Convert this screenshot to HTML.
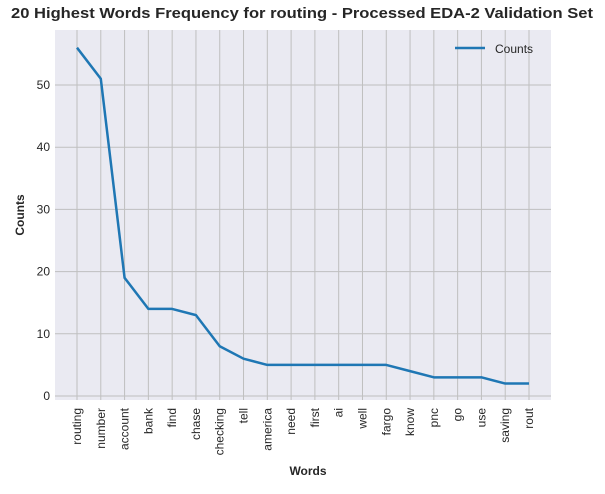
<!DOCTYPE html>
<html><head><meta charset="utf-8"><style>
body{margin:0;background:#fff;font-family:"Liberation Sans",Arial,sans-serif}
</style></head><body>
<svg width="605" height="489" xmlns="http://www.w3.org/2000/svg">
<text x="302" y="18" text-anchor="middle" font-size="15" font-weight="bold" fill="#262626" textLength="582" lengthAdjust="spacingAndGlyphs">20 Highest Words Frequency for routing - Processed EDA-2 Validation Set</text>
<rect x="55" y="30" width="496" height="370" fill="#eaeaf2"/>
<g id="grid"></g>
<path id="line" fill="none" stroke="#1f77b4" stroke-width="2.5" stroke-linejoin="round"/>
<g id="labels"></g>
<text x="308" y="475" text-anchor="middle" font-size="12" font-weight="bold" fill="#262626">Words</text>
<text transform="translate(24,215) rotate(-90)" text-anchor="middle" font-size="12" font-weight="bold" fill="#262626">Counts</text>
<g>
<line x1="455" y1="48" x2="485" y2="48" stroke="#1f77b4" stroke-width="2.5"/>
<text x="495" y="53" font-size="12" fill="#262626">Counts</text>
</g>
</svg>
<script>
const categories=["routing","number","account","bank","find","chase","checking","tell","america","need","first","ai","well","fargo","know","pnc","go","use","saving","rout"];
const counts=[56,51,19,14,14,13,8,6,5,5,5,5,5,5,4,3,3,3,2,2];
const yTicks=[0,10,20,30,40,50];
const ns="http://www.w3.org/2000/svg";
const x=i=>77+i*(529-77)/(categories.length-1);
const y=v=>396-v*(396-85)/50;
const grid=document.getElementById('grid'),labels=document.getElementById('labels');
function mk(tag,attrs,parent){const e=document.createElementNS(ns,tag);for(const k in attrs)e.setAttribute(k,attrs[k]);parent.appendChild(e);return e;}
categories.forEach((c,i)=>{
 const l=mk('line',{x1:x(i),x2:x(i),y1:30,y2:400,stroke:'#bfbfbf','stroke-width':1},grid);
 
 
 const t=mk('text',{transform:`translate(${x(i)+4},408) rotate(-90)`,'text-anchor':'end','font-size':12,fill:'#262626'},labels);
 t.textContent=c;
 
 
});
yTicks.forEach(v=>{
 const l=mk('line',{x1:55,x2:551,y1:y(v),y2:y(v),stroke:'#bfbfbf','stroke-width':1},grid);
 
 
 const t=mk('text',{x:50,y:y(v)+4,'text-anchor':'end','font-size':12,fill:'#262626'},labels);
 t.textContent=v;
 
 
});
document.getElementById('line').setAttribute('d',counts.map((v,i)=>(i?'L':'M')+x(i)+','+y(v)).join(''));
</script>
</body></html>
